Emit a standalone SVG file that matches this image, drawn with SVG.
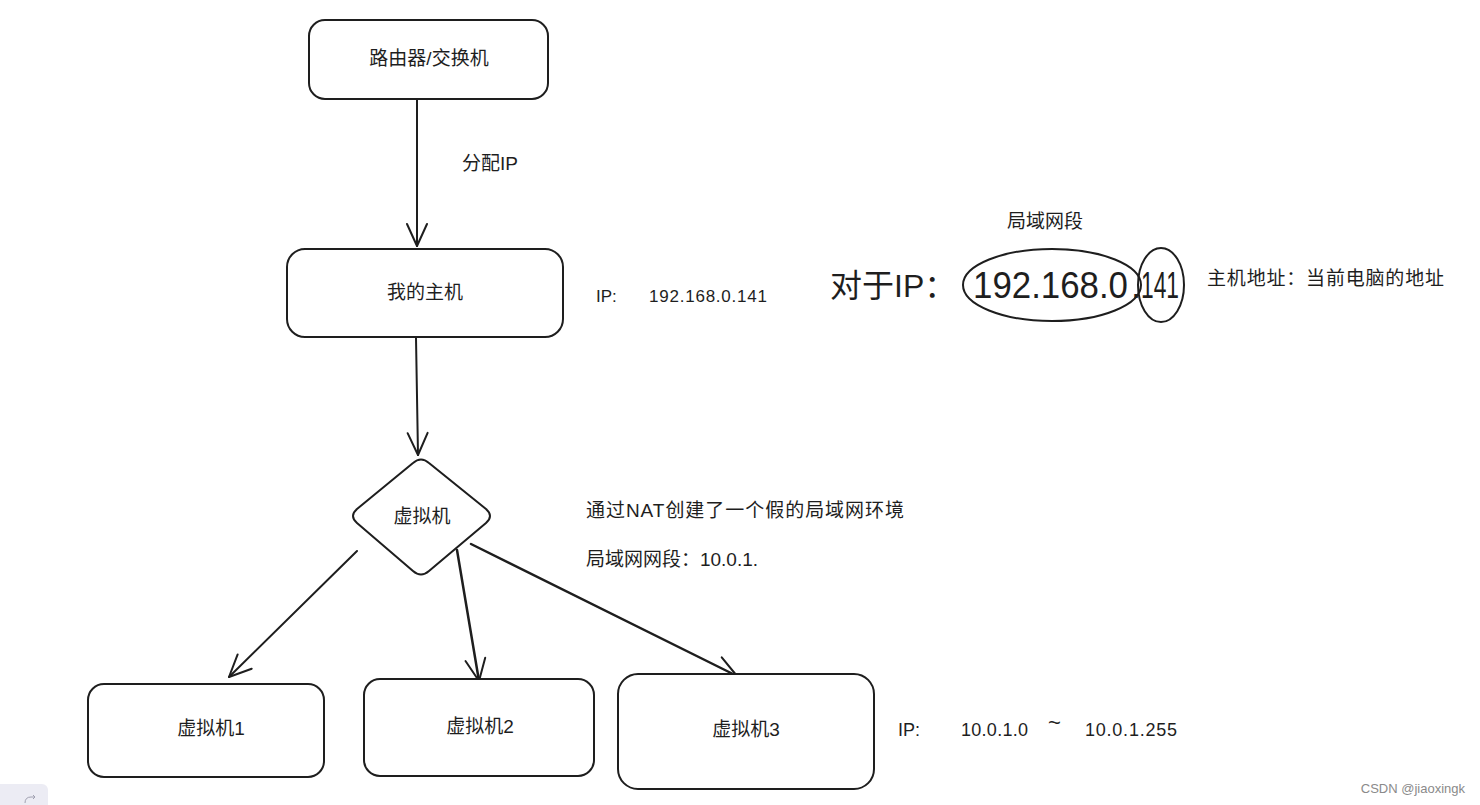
<svg xmlns="http://www.w3.org/2000/svg" width="1480" height="805" viewBox="0 0 1480 805">
<style>
.box{fill:#fff;stroke:#1e1e1e;stroke-width:2}
.ln{fill:none;stroke:#1e1e1e;stroke-width:2;stroke-linecap:round;stroke-linejoin:round}
.t{font-family:"Liberation Sans","Noto Sans CJK SC",sans-serif;font-size:19px;fill:#1e1e1e}
.c{text-anchor:middle;dominant-baseline:central}
.big{font-size:32px}
.dig{font-size:36px}
</style>
<defs>
<marker id="arr" viewBox="-24 -12 26 24" refX="0" refY="0" markerWidth="26" markerHeight="24" markerUnits="userSpaceOnUse" orient="auto">
<path d="M-22 -10 L0 0 L-22 10" fill="none" stroke="#1e1e1e" stroke-width="2" stroke-linecap="round" stroke-linejoin="round"/>
</marker>
</defs>
<rect width="1480" height="805" fill="#fff"/>
<g id="connectors">
<path class="ln" d="M417 100 L417 246" marker-end="url(#arr)"/>
<path class="ln" d="M416 338 L418 455" marker-end="url(#arr)"/>
<path class="ln" d="M357 551 L229 677" marker-end="url(#arr)"/>
<path class="ln" d="M457 550 L479 681" marker-end="url(#arr)" style="stroke-width:2.5"/>
<path class="ln" d="M471 544 L737 676" marker-end="url(#arr)" style="stroke-width:2.5"/>
</g>
<g id="router">
<rect class="box" x="309" y="20" width="239" height="79" rx="16"/>
<text class="t c" x="429" y="58">路由器/交换机</text>
</g>
<g id="label-assign">
<text class="t" x="462" y="170">分配IP</text>
</g>
<g id="host">
<rect class="box" x="287" y="249" width="276" height="88" rx="18"/>
<text class="t c" x="425" y="292">我的主机</text>
</g>
<g id="host-ip">
<text class="t" y="302" style="font-size:17px"><tspan x="596">IP:</tspan><tspan x="649" textLength="118">192.168.0.141</tspan></text>
</g>
<g id="vm">
<path class="box" d="M413 463 Q421 456 429 463 L486 509 Q494 516 486 523 L429 571 Q421 578 413 571 L357 523 Q349 516 357 509 Z"/>
<text class="t c" x="422" y="516">虚拟机</text>
</g>
<g id="nat-note">
<text class="t" x="586" y="517" textLength="318">通过NAT创建了一个假的局域网环境</text>
<text class="t" x="586" y="566" textLength="172">局域网网段：10.0.1.</text>
</g>
<g id="vm1">
<rect class="box" x="88" y="684" width="236" height="93" rx="16"/>
<text class="t c" x="211" y="728">虚拟机1</text>
</g>
<g id="vm2">
<rect class="box" x="364" y="679" width="230" height="97" rx="16"/>
<text class="t c" x="480" y="726">虚拟机2</text>
</g>
<g id="vm3">
<rect class="box" x="618" y="674" width="256" height="115" rx="20"/>
<text class="t c" x="746" y="729">虚拟机3</text>
</g>
<g id="vm-ip">
<text class="t" y="736" style="font-size:18px"><tspan x="898">IP:</tspan><tspan x="961" textLength="67">10.0.1.0</tspan><tspan x="1048" y="730" style="font-size:22px">~</tspan><tspan x="1085" y="736" textLength="92">10.0.1.255</tspan></text>
</g>
<g id="ip-explain">
<text class="t c" x="1045" y="221">局域网段</text>
<text class="t big" x="830" y="297">对于IP：</text>
<text class="t dig" x="973" y="298" textLength="155" lengthAdjust="spacingAndGlyphs">192.168.0</text>
<text class="t dig" x="1131" y="298">.</text>
<text class="t dig" x="1141" y="298" textLength="38" lengthAdjust="spacingAndGlyphs">141</text>
<ellipse class="ln" cx="1052" cy="285" rx="89" ry="36"/>
<ellipse class="ln" cx="1161" cy="285" rx="23" ry="37"/>
<text class="t" x="1207" y="285" textLength="237">主机地址：当前电脑的地址</text>
</g>
<text x="1465" y="793" text-anchor="end" style="font-family:'Liberation Sans',sans-serif;font-size:13px;fill:#8a8a8a">CSDN @jiaoxingk</text>
<rect x="-10" y="784" width="58" height="30" rx="6" fill="#ececf4"/>
<path d="M25 803 Q25 797 31 797 L35 797 M33 795 L35 797 L33 799" fill="none" stroke="#a0a0b0" stroke-width="1"/>
</svg>
